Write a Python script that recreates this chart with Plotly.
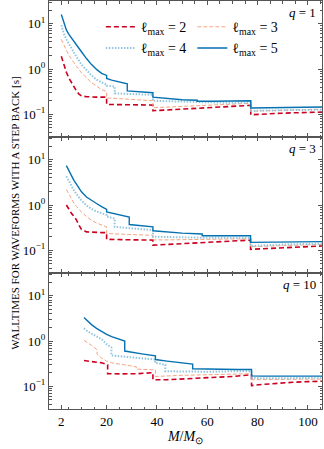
import plotly.graph_objects as go
from plotly.subplots import make_subplots

# walltimes [s] vs total mass M/Msun
# q = 1
m_q1_l2 = [2, 3, 4, 5, 6, 7, 8, 9, 10, 12, 14, 16, 18, 20, 20, 26, 32, 38.4, 38.4, 44, 50, 56, 62, 68, 74, 77.3, 77.3, 82, 88, 94, 100, 106]
t_q1_l2 = [1.9, 1.2, 0.85, 0.63, 0.5, 0.4, 0.33, 0.28, 0.255, 0.245, 0.24, 0.24, 0.24, 0.24, 0.165, 0.163, 0.162, 0.16, 0.12, 0.125, 0.13, 0.137, 0.143, 0.15, 0.155, 0.158, 0.098, 0.102, 0.105, 0.108, 0.11, 0.112]
m_q1_l3 = [2, 3, 4, 5, 6, 7, 8, 10, 12, 14, 16, 18, 20, 20, 26, 32, 38.4, 38.4, 44, 50, 56, 62, 68, 74, 77.3, 77.3, 82, 88, 94, 100, 106]
t_q1_l3 = [4.5, 3.3, 2.6, 2.0, 1.65, 1.35, 1.15, 0.82, 0.64, 0.5, 0.42, 0.35, 0.32, 0.23, 0.22, 0.21, 0.2, 0.14, 0.145, 0.15, 0.155, 0.16, 0.165, 0.17, 0.175, 0.117, 0.12, 0.123, 0.125, 0.128, 0.13]
m_q1_l4 = [2, 3, 4, 5, 6, 7, 8, 10, 12, 14, 16, 18, 20, 20, 23.2, 23.2, 28, 34, 38.4, 38.4, 44, 50, 56, 62, 68, 74, 77.3, 77.3, 82, 88, 94, 100, 106]
t_q1_l4 = [9.3, 6.0, 4.5, 3.7, 2.9, 2.3, 1.9, 1.25, 0.95, 0.72, 0.58, 0.5, 0.45, 0.43, 0.41, 0.29, 0.28, 0.275, 0.27, 0.2, 0.195, 0.19, 0.185, 0.18, 0.18, 0.18, 0.18, 0.12, 0.12, 0.122, 0.124, 0.125, 0.127]
m_q1_l5 = [2, 3, 4, 5, 6, 7, 8, 10, 12, 14, 16, 18, 20, 20, 22, 24, 26, 28.2, 28.2, 30, 34, 38.4, 38.4, 42, 46, 50, 56, 56, 62, 68, 74, 77.3, 77.3, 82, 88, 94, 100, 106]
t_q1_l5 = [16, 10.5, 7.3, 5.8, 4.8, 4.0, 3.4, 2.4, 1.7, 1.25, 0.98, 0.8, 0.72, 0.62, 0.57, 0.53, 0.5, 0.47, 0.33, 0.325, 0.315, 0.3, 0.24, 0.23, 0.22, 0.21, 0.205, 0.195, 0.195, 0.195, 0.2, 0.2, 0.138, 0.14, 0.14, 0.142, 0.143, 0.145]

# q = 3
m_q3_l2 = [4, 5, 6, 7, 8, 9, 10, 12, 14, 16, 18, 20, 20, 26, 32, 38.4, 38.4, 44, 50, 58, 64, 70, 77.2, 77.2, 82, 88, 94, 100, 106]
t_q3_l2 = [1.0, 0.78, 0.66, 0.56, 0.47, 0.36, 0.29, 0.255, 0.25, 0.248, 0.246, 0.245, 0.175, 0.172, 0.17, 0.168, 0.13, 0.135, 0.14, 0.15, 0.155, 0.162, 0.168, 0.105, 0.108, 0.113, 0.117, 0.12, 0.125]
m_q3_l3 = [4, 5, 6, 7, 8, 10, 12, 14, 16, 18, 20, 20, 26, 32, 38.4, 38.4, 44, 50, 58, 64, 70, 77.2, 77.2, 82, 88, 94, 100, 106]
t_q3_l3 = [2.2, 1.7, 1.35, 1.1, 0.93, 0.7, 0.56, 0.46, 0.4, 0.36, 0.33, 0.235, 0.225, 0.22, 0.215, 0.17, 0.17, 0.172, 0.175, 0.177, 0.18, 0.18, 0.12, 0.123, 0.126, 0.13, 0.132, 0.135]
m_q3_l4 = [4, 5, 6, 7, 8, 10, 12, 14, 16, 18, 20, 20, 23.2, 23.2, 28, 34, 38.4, 38.4, 44, 50, 58, 64, 70, 77.2, 77.2, 82, 88, 94, 100, 106]
t_q3_l4 = [4.3, 3.3, 2.6, 2.1, 1.75, 1.25, 0.98, 0.82, 0.72, 0.66, 0.6, 0.56, 0.5, 0.33, 0.31, 0.295, 0.28, 0.2, 0.195, 0.19, 0.19, 0.19, 0.19, 0.19, 0.125, 0.13, 0.133, 0.136, 0.138, 0.14]
m_q3_l5 = [4, 5, 6, 7, 8, 10, 12, 14, 16, 18, 20, 20, 22, 24, 26, 29, 29, 32, 35, 38.4, 38.4, 44, 50, 58, 58, 64, 70, 77.2, 77.2, 82, 88, 94, 100, 106]
t_q3_l5 = [7.4, 5.6, 4.4, 3.5, 2.9, 1.95, 1.5, 1.25, 1.08, 0.92, 0.8, 0.7, 0.66, 0.62, 0.58, 0.54, 0.37, 0.355, 0.345, 0.33, 0.27, 0.255, 0.24, 0.23, 0.21, 0.21, 0.21, 0.21, 0.15, 0.15, 0.152, 0.153, 0.155, 0.156]

# q = 10
m_q10_l2 = [11, 14, 18, 20.4, 20.4, 26, 32, 38.4, 38.4, 44, 50, 60, 70, 77.6, 77.6, 82, 88, 94, 100, 106]
t_q10_l2 = [0.37, 0.35, 0.33, 0.3, 0.19, 0.188, 0.19, 0.2, 0.14, 0.14, 0.145, 0.155, 0.165, 0.18, 0.104, 0.11, 0.118, 0.123, 0.127, 0.13]
m_q10_l3 = [11, 12, 14, 16.2, 16.2, 18, 20, 22, 26, 31.8, 31.8, 35, 39.4, 39.4, 44, 50, 60, 70, 77.6, 77.6, 82, 88, 94, 100, 106]
t_q10_l3 = [1.03, 0.95, 0.8, 0.64, 0.51, 0.42, 0.36, 0.33, 0.3, 0.27, 0.24, 0.235, 0.23, 0.165, 0.17, 0.175, 0.18, 0.185, 0.19, 0.14, 0.14, 0.142, 0.143, 0.145, 0.145]
m_q10_l4 = [11, 12, 14, 16, 18, 20, 21.9, 21.9, 26, 30, 34, 39.3, 39.3, 43.3, 43.3, 50, 60, 70, 77.6, 77.6, 82, 88, 94, 100, 106]
t_q10_l4 = [1.9, 1.7, 1.45, 1.27, 1.1, 0.85, 0.72, 0.48, 0.46, 0.43, 0.41, 0.39, 0.33, 0.3, 0.215, 0.21, 0.21, 0.215, 0.215, 0.155, 0.15, 0.15, 0.152, 0.153, 0.155]
m_q10_l5 = [11, 12, 14, 16, 18, 20, 22, 24, 27.2, 27.2, 30, 34, 39.4, 39.4, 44, 48, 54.2, 54.2, 60, 66, 72, 77.6, 77.6, 82, 88, 94, 100, 106]
t_q10_l5 = [3.3, 2.9, 2.3, 1.9, 1.6, 1.4, 1.25, 1.15, 1.0, 0.6, 0.56, 0.52, 0.47, 0.39, 0.36, 0.34, 0.31, 0.245, 0.24, 0.235, 0.235, 0.235, 0.17, 0.168, 0.168, 0.168, 0.168, 0.168]

panels = [
    ("<i>q</i> = 1", [(m_q1_l2, t_q1_l2), (m_q1_l3, t_q1_l3), (m_q1_l4, t_q1_l4), (m_q1_l5, t_q1_l5)]),
    ("<i>q</i> = 3", [(m_q3_l2, t_q3_l2), (m_q3_l3, t_q3_l3), (m_q3_l4, t_q3_l4), (m_q3_l5, t_q3_l5)]),
    ("<i>q</i> = 10", [(m_q10_l2, t_q10_l2), (m_q10_l3, t_q10_l3), (m_q10_l4, t_q10_l4), (m_q10_l5, t_q10_l5)]),
]
lmax = [2, 3, 4, 5]
colors = ["#ca0020", "#f4a582", "#92c5de", "#0571b0"]
dashes = ["5px,3px", "4px,2px", "1.5px,1.5px", "solid"]
widths = [1.6, 1.0, 2.0, 1.4]
legends = ["legend", "legend2", "legend", "legend2"]

xticks = [2, 20, 40, 60, 80, 100]
xminor = [5, 10, 15, 25, 30, 35, 45, 50, 55, 65, 70, 75, 85, 90, 95, 105]
yticks = [0.1, 1, 10]
yticktext = ["10<sup>\u22121</sup>", "10<sup>0</sup>", "10<sup>1</sup>"]
yminor = [0.04, 0.05, 0.06, 0.07, 0.08, 0.09, 0.2, 0.3, 0.4, 0.5, 0.6, 0.7, 0.8, 0.9,
          2, 3, 4, 5, 6, 7, 8, 9, 20, 30]

font = "Liberation Serif"
axcol = "#555555"

fig = make_subplots(rows=3, cols=1, shared_xaxes=True, vertical_spacing=0)

for r, (label, curves) in enumerate(panels, start=1):
    for i, (m, t) in enumerate(curves):
        fig.add_trace(go.Scatter(
            x=m, y=t, mode="lines",
            name=f"\u2113<sub>max</sub> = {lmax[i]}",
            line=dict(color=colors[i], dash=dashes[i], width=widths[i]),
            showlegend=(r == 1), legend=legends[i],
        ), row=r, col=1)
    fig.add_annotation(text=label, xref="x domain", yref="y domain",
                       x=0.985, y=0.985, xanchor="right", yanchor="top",
                       showarrow=False, font=dict(size=13, color="black"),
                       row=r, col=1)
    fig.update_yaxes(type="log", range=[-1.5, 1.5], tickvals=yticks, ticktext=yticktext,
                     minor=dict(tickvals=yminor, ticks="inside", ticklen=2.5, tickcolor=axcol),
                     row=r, col=1)

fig.update_xaxes(range=[-2.9, 105.6], tickvals=xticks, ticks="inside", ticklen=4,
                 tickcolor=axcol, showline=True, linecolor=axcol, linewidth=1,
                 mirror="ticks", showgrid=False, zeroline=False,
                 minor=dict(tickvals=xminor, ticks="inside", ticklen=2.5, tickcolor=axcol),
                 tickfont=dict(size=13, color="black"))
fig.update_xaxes(title=dict(text="<i>M</i>/<i>M</i><sub>\u2299</sub>", font=dict(size=14, color="black"),
                            standoff=2), row=3, col=1)
fig.update_yaxes(ticks="inside", ticklen=4, tickcolor=axcol, showline=True, linecolor=axcol,
                 linewidth=1, mirror="ticks", showgrid=False, zeroline=False,
                 tickfont=dict(size=13, color="black"))

# y title spanning all three panels
fig.add_annotation(text="WALLTIMES FOR WAVEFORMS WITH A STEP BACK [s]", xref="paper", yref="paper",
                   x=-0.152, y=0.48, textangle=-90, showarrow=False,
                   font=dict(size=11, color="black"))

fig.update_layout(
    width=324, height=449,
    margin=dict(l=49, r=2, t=1, b=40),
    font=dict(family=font, color="black"),
    plot_bgcolor="white", paper_bgcolor="white",
    legend=dict(x=0.19, y=0.975, xanchor="left", yanchor="top", bgcolor="rgba(0,0,0,0)",
                font=dict(size=14), tracegroupgap=0, itemwidth=30),
    legend2=dict(x=0.525, y=0.975, xanchor="left", yanchor="top", bgcolor="rgba(0,0,0,0)",
                 font=dict(size=14), tracegroupgap=0, itemwidth=30),
)

# the page body has a default 8px margin; drop it so the figure sits at the corner
fig.write_html("out.html", config={"displayModeBar": False},
               post_script="document.body.style.margin='0';document.body.style.overflow='hidden';")
